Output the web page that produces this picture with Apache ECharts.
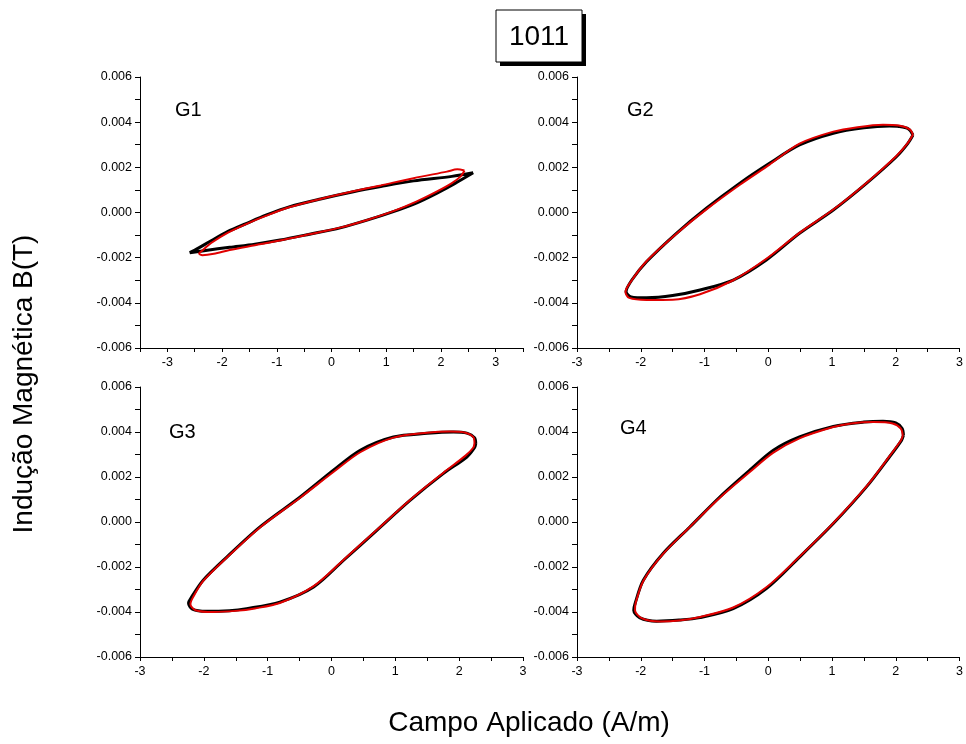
<!DOCTYPE html>
<html>
<head>
<meta charset="utf-8">
<script src="https://cdn.jsdelivr.net/npm/echarts@6/dist/echarts.min.js"></script>
<style>
html, body { margin: 0; padding: 0; background: #fff; }
#main { width: 966px; height: 744px; }
</style>
</head>
<body>
<div id="main"></div>
<script>
// dados: [H (A/m), B (T)]
var g1Black = [[2.59,0.00176],[2.2,0.00160],[1.5,0.00140],[0.9,0.00115],[0.4,0.00092],[-0.2,0.00060],[-0.76,0.00026],[-1.2,-0.00012],[-1.55,-0.00048],[-1.9,-0.00085],[-2.2,-0.00125],[-2.45,-0.00160],[-2.59,-0.00178],[-2.3,-0.00168],[-1.86,-0.00154],[-1.4,-0.00140],[-0.94,-0.00122],[-0.4,-0.00096],[0.16,-0.00068],[0.65,-0.00034],[1.13,0.00004],[1.55,0.00042],[1.92,0.00085],[2.25,0.00128],[2.59,0.00176]];
var g1Red = [[2.43,0.00186],[2.30,0.00191],[2.11,0.00181],[1.5,0.00152],[0.9,0.00120],[0.4,0.00094],[-0.2,0.00060],[-0.76,0.00024],[-1.2,-0.00015],[-1.55,-0.00050],[-1.9,-0.00090],[-2.2,-0.00135],[-2.36,-0.00168],[-2.42,-0.00182],[-2.36,-0.00189],[-2.15,-0.00183],[-1.86,-0.00166],[-1.4,-0.00145],[-0.94,-0.00124],[-0.4,-0.00096],[0.16,-0.00067],[0.65,-0.00033],[1.13,0.00006],[1.55,0.00048],[1.92,0.00092],[2.2,0.00130],[2.36,0.00160],[2.43,0.00186]];

var g2Black = [[2.27,0.00343],[2.2,0.00370],[2.05,0.00381],[1.9,0.00383],[1.5,0.00375],[1.02,0.00351],[0.49,0.00299],[0.02,0.00218],[-0.45,0.00129],[-0.97,0.00019],[-1.44,-0.00092],[-1.91,-0.00218],[-2.14,-0.00299],[-2.23,-0.00351],[-2.15,-0.00374],[-1.91,-0.00378],[-1.5,-0.00368],[-1.07,-0.00343],[-0.55,-0.00299],[-0.03,-0.0021],[0.49,-0.00092],[1.02,0.00011],[1.54,0.00129],[2.01,0.00247],[2.19,0.00306],[2.27,0.00343]];
var g2Red = [[2.27,0.00345],[2.22,0.00368],[2.05,0.00385],[1.8,0.00389],[1.4,0.00378],[1.02,0.00358],[0.49,0.00305],[0.02,0.00212],[-0.45,0.00122],[-0.97,0.00014],[-1.44,-0.00094],[-1.91,-0.00216],[-2.14,-0.00300],[-2.24,-0.00352],[-2.18,-0.00378],[-1.91,-0.00387],[-1.5,-0.00386],[-1.07,-0.00362],[-0.55,-0.00300],[-0.03,-0.00205],[0.49,-0.00090],[1.02,0.00013],[1.54,0.00131],[2.01,0.00250],[2.19,0.00308],[2.27,0.00345]];

var g3Black = [[2.26,0.00348],[2.24,0.00375],[2.12,0.00395],[1.91,0.00400],[1.5,0.00394],[0.97,0.00378],[0.45,0.00319],[0.03,0.00230],[-0.49,0.00111],[-1.12,-0.00022],[-1.64,-0.00156],[-2.01,-0.00259],[-2.19,-0.00333],[-2.24,-0.00360],[-2.18,-0.00387],[-1.96,-0.00397],[-1.6,-0.00394],[-1.33,-0.00385],[-0.81,-0.00356],[-0.28,-0.00289],[0.19,-0.00170],[0.71,-0.00037],[1.23,0.00096],[1.75,0.00215],[2.12,0.00289],[2.24,0.00330],[2.26,0.00348]];
var g3Red = [[2.24,0.00350],[2.22,0.00378],[2.10,0.00397],[1.85,0.00402],[1.5,0.00397],[0.97,0.00375],[0.45,0.00310],[0.03,0.00222],[-0.49,0.00108],[-1.12,-0.00024],[-1.64,-0.00158],[-2.01,-0.00262],[-2.17,-0.00335],[-2.21,-0.00365],[-2.13,-0.00392],[-1.85,-0.00400],[-1.5,-0.00395],[-1.2,-0.00384],[-0.81,-0.00360],[-0.28,-0.00285],[0.19,-0.00168],[0.71,-0.00035],[1.23,0.00098],[1.75,0.00218],[2.10,0.00295],[2.22,0.00330],[2.24,0.00350]];

var g4Black = [[2.12,0.00385],[2.10,0.00415],[2.0,0.00440],[1.80,0.00448],[1.5,0.00444],[1.02,0.00425],[0.49,0.00378],[0.08,0.00319],[-0.29,0.00230],[-0.76,0.00111],[-1.23,-0.00022],[-1.65,-0.00140],[-1.96,-0.00259],[-2.09,-0.00363],[-2.11,-0.00392],[-2.02,-0.00425],[-1.75,-0.00441],[-1.4,-0.00436],[-1.07,-0.00425],[-0.55,-0.00385],[-0.03,-0.00296],[0.49,-0.00156],[1.02,-0.00007],[1.54,0.00156],[1.90,0.00289],[2.09,0.00363],[2.12,0.00385]];
var g4Red = [[2.11,0.00383],[2.08,0.00415],[1.95,0.00438],[1.65,0.00444],[1.3,0.00438],[1.02,0.00422],[0.49,0.00372],[0.08,0.00308],[-0.29,0.00222],[-0.76,0.00108],[-1.23,-0.00022],[-1.65,-0.00142],[-1.96,-0.00262],[-2.08,-0.00360],[-2.09,-0.00392],[-1.98,-0.00428],[-1.70,-0.00442],[-1.4,-0.00438],[-1.07,-0.00422],[-0.55,-0.00380],[-0.03,-0.00290],[0.49,-0.00154],[1.02,-0.00005],[1.54,0.00158],[1.90,0.00292],[2.08,0.00362],[2.11,0.00383]];

var panelNames = ['G1', 'G2', 'G3', 'G4'];
var xRanges = [[-3.5, 3.5], [-3, 3], [-3, 3], [-3, 3]];
var yRange = [-0.006, 0.006];

var fonte = 'Arial, "Liberation Sans", sans-serif';
var myChart = echarts.init(document.getElementById('main'));

var grids = [
    {left: 140, top: 77, width: 383, height: 271},
    {left: 577, top: 77, width: 383, height: 271},
    {left: 140, top: 387, width: 383, height: 270},
    {left: 577, top: 387, width: 383, height: 270}
];

var xAxes = [], yAxes = [];
for (var i = 0; i < 4; i++) {
    xAxes.push({
        type: 'value', gridIndex: i,
        min: xRanges[i][0], max: xRanges[i][1], interval: 0.5,
        splitLine: {show: false},
        axisLine: {onZero: false, lineStyle: {color: '#000', width: 1}},
        axisTick: {inside: false, length: 4, lineStyle: {color: '#000'}},
        axisLabel: {
            color: '#000', fontSize: 12.5, fontFamily: fonte, margin: 8,
            formatter: function (v) { return (Math.abs(v % 1) < 1e-9) ? String(v) : ''; }
        }
    });
    yAxes.push({
        type: 'value', gridIndex: i,
        min: yRange[0], max: yRange[1], interval: 0.001,
        splitLine: {show: false},
        axisLine: {onZero: false, lineStyle: {color: '#000', width: 1}},
        axisTick: {inside: false, length: 5, lineStyle: {color: '#000'}},
        axisLabel: {
            color: '#000', fontSize: 12.5, fontFamily: fonte, margin: 8,
            formatter: function (v) {
                var k = Math.round(v * 1000);
                return (k % 2 === 0) ? (k / 1000).toFixed(3) : '';
            }
        }
    });
}

function loop (dados, idx, cor, larg) {
    return {
        type: 'line', xAxisIndex: idx, yAxisIndex: idx,
        data: dados, showSymbol: false, smooth: 0.3,
        lineStyle: {color: cor, width: larg}
    };
}

var series = [
    loop(g1Black, 0, '#000', 3), loop(g1Red, 0, '#e00000', 2),
    loop(g2Black, 1, '#000', 3), loop(g2Red, 1, '#e00000', 2),
    loop(g3Black, 2, '#000', 3), loop(g3Red, 2, '#e00000', 2),
    loop(g4Black, 3, '#000', 3), loop(g4Red, 3, '#e00000', 2)
];

var labelPos = [[175, 110], [627, 110], [169, 432], [620, 428]];
var graphics = [];
for (var j = 0; j < 4; j++) {
    graphics.push({
        type: 'text', x: labelPos[j][0], y: labelPos[j][1],
        style: {text: panelNames[j], font: '20px ' + fonte, fill: '#000', textVerticalAlign: 'middle'}
    });
}
// caixa do título com sombra
graphics.push({type: 'rect', shape: {x: 500, y: 14, width: 86, height: 52}, style: {fill: '#000'}});
graphics.push({type: 'rect', shape: {x: 496, y: 10, width: 86, height: 52}, style: {fill: '#fff', stroke: '#000', lineWidth: 1}});
graphics.push({type: 'text', x: 539, y: 37, style: {text: '1011', font: '28px ' + fonte, fill: '#000', textAlign: 'center', textVerticalAlign: 'middle'}});
// títulos dos eixos
graphics.push({type: 'text', x: 529, y: 723, style: {text: 'Campo Aplicado (A/m)', font: '28px ' + fonte, fill: '#000', textAlign: 'center', textVerticalAlign: 'middle'}});
graphics.push({type: 'text', x: 24, y: 384, rotation: Math.PI / 2, style: {text: 'Indução Magnética B(T)', font: '28px ' + fonte, fill: '#000', textAlign: 'center', textVerticalAlign: 'middle'}});

var option = {
    animation: false,
    backgroundColor: '#fff',
    grid: grids,
    xAxis: xAxes,
    yAxis: yAxes,
    series: series,
    graphic: graphics
};

myChart.setOption(option);
</script>
</body>
</html>
